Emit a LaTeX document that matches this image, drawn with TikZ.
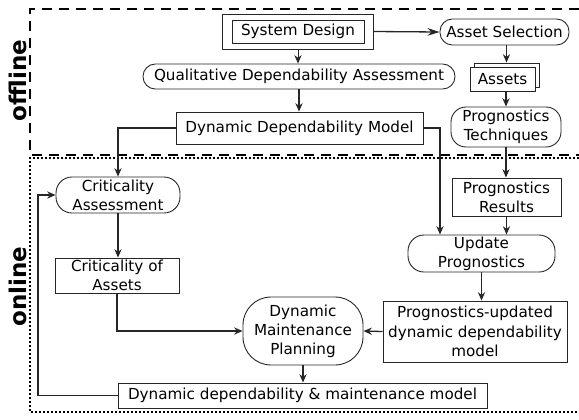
\documentclass[tikz,border=0pt]{standalone}
\usepackage{fontspec}
\setmainfont{DejaVu Sans}
\usetikzlibrary{arrows.meta,fit,shadows}

\begin{document}
\begin{tikzpicture}[x=0.5pt,y=0.5pt]
\tikzstyle{every node}+=[inner sep=0pt]
\tikzstyle{box}=[draw=black!85, line width=0.45pt, align=center, font=\fontsize{7.6}{9.6}\selectfont]
\tikzstyle{term}=[box, rounded corners=6.2pt]
\tikzstyle{flow}=[-{Stealth[length=4.2pt,width=3.6pt]}, line width=0.65pt, black!85]
\tikzstyle{side}=[rotate=90, font=\fontsize{11.5}{12}\bfseries\selectfont]
\useasboundingbox (0,0) rectangle (579,-419);
% offline / online frames
\draw [line width=1pt, dash pattern=on 5pt off 3.5pt] (579,-9) -- (30,-9) -- (30,-155) -- (579,-155);
\draw [line width=0.9pt, dash pattern=on 0.8pt off 1.2pt] (579,-158) -- (30,-158) -- (30,-412) -- (579,-412);
\draw (18,-80.5) node [side] (offline) {offline};
\draw (18,-286.5) node [side] (online) {online};
% offline nodes
\draw (298,-31.5) node [box, minimum width=66pt, minimum height=11.5pt] (sdin) {System Design};
\node [draw=black!85, line width=0.45pt, fit=(sdin), inner xsep=4.5pt, inner ysep=2.75pt] (sd) {};
\draw (504.5,-32) node [term, minimum width=64.5pt, minimum height=13pt] (as) {Asset Selection};
\draw (299,-76.5) node [term, minimum width=156pt, minimum height=12.5pt] (qda) {Qualitative Dependability Assessment};
\draw (502.5,-79) node [box, fill=white, minimum width=32.5pt, minimum height=12pt,
  copy shadow={shadow xshift=2pt, shadow yshift=2pt, fill=white, draw=black!85, line width=0.45pt}] (assets) {Assets};
\draw (299.5,-128) node [box, minimum width=123.5pt, minimum height=16pt] (ddm) {Dynamic Dependability Model};
\draw (506,-127) node [term, rounded corners=7.5pt, minimum width=55pt, minimum height=20pt] (pt) {Prognostics\\Techniques};
% online nodes
\draw (118,-195) node [term, rounded corners=8pt, minimum width=62pt, minimum height=18pt] (ca) {Criticality\\Assessment};
\draw (506.5,-197) node [box, minimum width=54.5pt, minimum height=19pt] (pr) {Prognostics\\Results};
\draw (481.5,-253.5) node [term, rounded corners=8pt, minimum width=73.5pt, minimum height=18.5pt] (up) {Update\\Prognostics};
\draw (117,-275.5) node [box, minimum width=62pt, minimum height=17.5pt] (coa) {Criticality of\\Assets};
\draw (303,-331) node [box, rounded corners=14pt, minimum width=60pt, minimum height=34pt] (dmp) {Dynamic\\Maintenance\\Planning};
\draw (475,-331.5) node [box, minimum width=92pt, minimum height=30.5pt] (pud) {Prognostics-updated\\dynamic dependability\\model};
\draw (302.5,-395.5) node [box, minimum width=184.5pt, minimum height=12.5pt] (ddmm) {Dynamic dependability \& maintenance model};
\coordinate (assetstop) at ([xshift=2pt,yshift=2pt]assets.north);
\coordinate (upin) at ([xshift=-20.75pt]up.north);
\coordinate (loop) at (38,-395.5);
% connectors
\draw [flow, -{Stealth[length=6pt,width=3.8pt]}] (sd.east) -- (as.west);
\draw [flow, line width=0.5pt] (sd.south) -- (sd.south |- qda.north);
\draw [flow] (qda.south) -- (qda.south |- ddm.north);
\draw [flow] (as.south -| assetstop) -- (assetstop);
\draw [flow] (assets.south -| pt.north) -- (pt.north);
\draw [flow] (pt.south) -- (pt.south |- pr.north);
\draw [flow] (ddm.east) -| (upin);
\draw [flow] (ddm.west) -| (ca.north);
\draw [flow] (pr.south) -- (pr.south |- up.north);
\draw [flow] (ca.south) -- (ca.south |- coa.north);
\draw [flow] (coa.south) |- (dmp.west);
\draw [flow] (up.south) -- (up.south |- pud.north);
\draw [flow] (pud.west) -- (dmp.east);
\draw [flow] (dmp.south) -- (dmp.south |- ddmm.north);
\draw [flow] (ddmm.west) -- (loop) |- (ca.west);
\end{tikzpicture}
\end{document}
